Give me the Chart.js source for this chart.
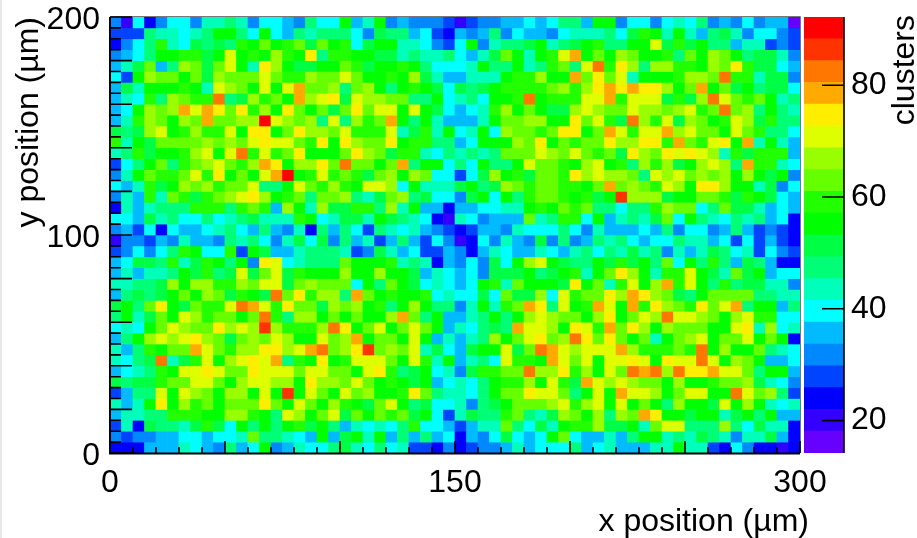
<!DOCTYPE html>
<html>
<head>
<meta charset="utf-8">
<title>clusters map</title>
<script src="https://cdn.jsdelivr.net/npm/chart.js@4"></script>
<style>
  html, body { margin: 0; padding: 0; background: #fff; overflow: hidden; }
  canvas { position: absolute; top: 0; }
  #map { left: 0; }
  #bar { left: 800px; }
  #edge { position: absolute; left: 0; top: 0; width: 2px; height: 538px; background: #e8e8e8; }
</style>
</head>
<body>
<canvas id="map" width="917" height="538"></canvas>
<canvas id="bar" width="117" height="538"></canvas>
<div id="edge"></div>
<script>
// bin centres along x, lower bin edges along y (top row first)
const xBins = [2.5,7.5,12.5,17.5,22.5,27.5,32.5,37.5,42.5,47.5,52.5,57.5,62.5,67.5,72.5,77.5,82.5,87.5,92.5,97.5,
  102.5,107.5,112.5,117.5,122.5,127.5,132.5,137.5,142.5,147.5,152.5,157.5,162.5,167.5,172.5,177.5,182.5,187.5,192.5,197.5,
  202.5,207.5,212.5,217.5,222.5,227.5,232.5,237.5,242.5,247.5,252.5,257.5,262.5,267.5,272.5,277.5,282.5,287.5,292.5,297.5];
const yBins = [195,190,185,180,175,170,165,160,155,150,145,140,135,130,125,120,115,110,105,100,
  95,90,85,80,75,70,65,60,55,50,45,40,35,30,25,20,15,10,5,0];
const yBinHeight = 5;

const clusterRows = [
  [32,20,40,24,32,40,40,32,44,44,48,44,32,40,40,36,32,48,40,40, 55,36,44,55,32,36,32,32,32,28,20,28,32,32,36,36,40,36,40,48, 48,36,55,55,32,40,40,32,40,44,40,48,32,36,32,40,32,36,36,16],
  [28,28,28,48,44,44,40,44,48,55,55,48,40,55,40,36,48,44,48,48, 48,40,32,51,48,48,36,40,28,24,36,32,36,48,32,40,36,36,32,40, 44,44,44,48,40,51,59,55,44,55,44,36,48,51,44,32,40,40,32,28],
  [24,32,40,48,59,44,40,51,48,51,48,59,55,63,55,59,63,51,63,55, 59,40,51,55,55,44,44,40,32,28,40,55,32,44,48,48,51,55,44,48, 51,55,59,48,48,55,55,71,51,59,51,55,48,48,36,44,44,28,32,28],
  [32,36,40,48,55,55,59,59,51,55,71,55,59,55,67,59,55,75,48,59, 59,55,55,51,51,44,48,44,44,48,40,36,44,51,63,55,44,55,59,71, 79,55,63,55,67,63,55,55,59,48,63,55,67,63,55,48,51,51,44,32],
  [36,44,51,63,36,48,67,63,51,63,71,55,44,75,67,55,51,51,55,55, 63,59,51,55,55,59,55,48,40,40,40,44,55,48,48,55,44,48,59,63, 48,71,83,59,75,67,48,67,67,59,59,55,67,63,75,59,51,51,40,36],
  [40,28,55,67,63,63,55,63,51,67,63,63,63,71,63,59,59,67,63,63, 71,63,55,55,59,55,67,51,44,36,36,44,44,44,55,59,59,67,55,55, 79,63,75,63,71,44,55,55,55,59,67,67,63,83,59,59,44,51,51,32],
  [36,51,44,55,55,55,59,55,44,71,67,63,55,71,55,71,79,63,63,67, 48,63,67,55,48,55,59,55,51,40,51,48,51,55,59,59,59,59,63,67, 59,67,75,79,75,79,75,75,67,55,63,79,55,63,51,55,48,51,51,40],
  [36,44,40,59,48,67,63,59,59,83,48,51,67,59,63,55,79,67,71,75, 51,71,67,67,63,63,48,48,55,40,44,48,40,55,55,59,83,55,59,59, 59,71,71,79,59,71,71,71,51,59,51,67,83,71,63,59,63,55,44,48],
  [36,40,55,67,63,67,79,71,79,75,63,75,59,67,55,75,63,55,63,51, 63,75,63,71,71,55,71,55,51,40,36,40,44,59,67,55,63,55,51,51, 67,71,67,63,63,71,67,67,63,67,71,59,63,83,63,67,48,55,48,44],
  [36,44,59,67,63,55,67,63,79,63,63,67,67,90,71,67,63,67,48,71, 48,67,59,63,79,55,48,55,44,36,36,36,44,55,63,63,67,67,55,55, 75,63,71,59,51,83,67,59,71,51,67,63,55,59,71,67,51,59,48,48],
  [51,48,51,67,71,55,59,67,59,59,71,55,75,75,55,63,75,67,67,63, 71,59,59,59,71,44,51,59,44,55,40,44,55,40,67,63,63,59,63,75, 75,55,63,79,71,59,71,71,79,67,71,63,63,55,71,63,59,48,48,40],
  [59,44,55,51,63,63,63,63,67,63,67,63,71,75,71,71,63,59,75,55, 75,67,63,63,75,55,59,59,48,48,36,40,55,55,55,67,63,75,55,63, 59,63,63,75,67,67,75,75,59,79,63,59,71,75,55,79,44,55,44,36],
  [44,48,59,51,55,55,59,67,71,55,71,83,59,71,59,63,75,55,55,55, 63,75,67,63,51,59,59,44,40,48,44,48,44,48,63,63,63,71,67,63, 71,63,59,63,51,75,67,63,75,71,75,71,67,44,59,51,59,59,59,36],
  [28,40,48,55,63,48,59,63,67,71,63,59,67,79,75,55,67,67,75,63, 83,63,63,55,63,79,48,55,55,40,48,40,55,48,48,55,71,63,63,59, 55,67,71,55,59,48,67,59,67,51,55,67,71,67,48,79,59,59,44,40],
  [32,44,55,63,59,59,63,71,59,75,55,63,55,71,79,90,55,59,71,59, 63,59,51,63,67,55,67,63,40,40,28,40,51,67,55,59,51,63,63,59, 75,67,71,67,67,63,48,71,67,71,63,67,63,67,55,67,55,51,55,32],
  [40,36,44,59,51,55,67,63,67,59,63,63,71,48,48,55,71,63,59,67, 59,55,71,71,67,40,55,44,44,44,51,55,48,51,67,63,59,63,63,59, 59,55,63,79,63,67,63,59,71,67,55,75,75,67,55,55,44,51,32,40],
  [32,44,36,59,44,63,59,51,59,63,67,71,75,67,55,59,63,48,63,63, 67,48,44,51,63,67,48,51,40,40,32,51,55,40,55,48,59,63,63,59, 55,59,51,55,87,67,67,67,51,55,55,63,63,59,51,59,55,51,40,36],
  [24,44,36,44,48,48,48,59,59,59,48,59,63,59,36,67,55,44,67,51, 51,59,59,48,67,44,55,36,36,24,36,36,40,40,44,44,55,59,55,63, 59,63,48,48,40,48,48,59,67,63,63,40,48,63,51,51,44,36,40,36],
  [40,40,36,51,44,48,40,40,48,40,44,48,51,44,44,44,59,55,40,44, 51,51,44,55,51,48,44,40,24,20,44,40,32,36,36,36,63,44,48,59, 59,40,55,36,44,48,44,51,63,40,55,48,44,40,48,44,48,36,40,24],
  [32,36,28,40,24,40,36,36,40,44,48,40,36,48,36,32,44,24,48,36, 48,40,28,48,44,40,44,36,32,28,24,28,36,36,32,44,40,40,40,48, 40,32,44,36,36,36,40,36,48,32,40,40,32,36,48,36,28,32,28,24],
  [20,32,32,28,36,32,44,36,36,32,48,44,48,40,32,44,51,40,51,32, 48,36,44,28,36,48,36,28,40,32,20,24,40,32,44,36,32,51,32,48, 32,36,48,44,48,40,36,40,40,48,44,44,36,40,28,40,28,36,28,24],
  [28,32,40,32,40,48,59,55,40,40,59,28,55,51,36,36,44,48,48,48, 44,28,32,51,44,36,40,28,28,36,32,24,36,44,40,36,36,44,40,36, 44,48,40,48,44,51,44,48,32,44,36,44,51,48,40,44,28,40,32,28],
  [36,40,51,51,48,59,44,51,59,55,48,55,32,75,71,40,44,48,48,48, 63,55,55,55,59,44,48,44,24,36,32,40,32,51,40,55,67,71,55,51, 48,48,55,51,59,51,55,48,63,40,55,48,59,48,36,51,48,36,24,24],
  [36,44,36,44,44,48,55,51,59,48,51,71,51,63,71,51,59,55,55,55, 67,55,55,67,55,55,51,36,44,40,36,40,32,51,51,51,55,48,51,55, 59,44,55,63,75,67,55,44,59,59,71,55,51,44,63,51,55,36,40,40],
  [44,44,48,48,51,67,55,67,67,59,59,67,63,71,71,51,63,67,63,63, 63,40,55,48,63,55,51,40,44,40,36,40,55,59,44,63,55,55,55,51, 75,55,63,44,59,71,55,67,79,59,71,55,48,59,48,51,51,44,44,32],
  [36,48,51,48,51,55,63,55,67,63,51,59,55,51,83,63,75,59,67,67, 48,79,63,55,59,55,55,59,40,44,40,40,51,40,63,51,51,67,40,71, 59,63,63,75,67,79,75,67,63,51,48,55,63,63,63,63,48,48,44,44],
  [51,55,48,63,75,55,51,63,59,59,71,83,79,71,59,75,63,63,51,67, 63,67,55,59,48,55,67,55,48,48,32,44,55,44,59,63,79,75,48,71, 55,59,79,71,55,79,59,75,67,63,59,75,63,71,79,48,55,55,36,48],
  [48,55,44,51,63,55,71,67,59,63,63,55,63,83,59,48,67,67,55,63, 55,63,55,55,67,79,63,48,55,36,36,44,48,55,48,55,67,71,67,63, 63,55,67,75,55,63,71,67,83,71,71,67,63,55,67,71,59,59,40,40],
  [40,44,40,55,63,71,67,63,63,75,67,71,67,87,67,59,59,59,67,83, 75,55,63,71,55,63,71,63,55,36,44,40,48,51,48,79,71,71,67,55, 75,71,59,79,63,75,67,55,67,63,63,63,55,55,71,75,44,67,40,44],
  [36,48,55,67,71,67,71,75,67,63,51,63,67,63,71,67,55,55,71,63, 67,79,55,63,63,55,71,55,36,44,36,44,48,67,55,63,71,75,63,67, 83,75,63,75,63,55,63,44,55,63,67,71,55,63,63,71,55,63,55,24],
  [44,36,48,59,55,63,63,79,71,63,59,67,67,75,75,67,71,79,83,63, 67,75,87,63,67,63,71,44,51,40,36,51,55,55,71,51,63,83,79,71, 67,71,71,71,79,67,59,59,59,63,59,83,55,67,55,55,63,48,44,40],
  [44,40,48,51,83,44,51,59,71,55,67,71,75,71,79,48,59,55,75,55, 59,71,71,71,63,55,71,59,44,55,36,44,48,40,71,59,59,55,79,71, 63,71,55,71,71,75,71,55,75,71,71,83,71,55,67,63,55,36,36,40],
  [36,40,44,48,59,55,71,71,75,71,63,63,75,71,71,71,63,71,71,63, 63,55,71,75,59,48,51,55,40,44,32,51,59,59,63,63,83,67,67,75, 59,67,55,71,63,83,79,83,67,83,75,75,79,71,71,63,48,55,55,36],
  [51,48,51,51,59,63,63,71,71,63,55,67,71,71,67,67,55,75,67,67, 63,71,63,55,59,55,51,55,36,40,44,40,48,55,59,59,67,55,71,59, 51,79,71,67,71,67,63,63,55,67,55,55,59,63,63,67,51,44,40,32],
  [28,36,48,48,71,55,71,67,63,55,67,67,55,71,55,87,55,71,63,55, 71,63,67,55,55,59,75,63,48,44,44,40,48,55,63,63,75,71,71,63, 48,55,71,55,79,71,71,67,55,63,71,71,55,55,83,71,63,67,48,28],
  [44,36,44,55,75,55,67,59,63,55,63,63,63,75,63,55,71,63,55,67, 59,55,51,63,71,55,48,51,40,40,44,32,48,51,55,63,63,63,67,71, 59,67,71,55,71,55,63,55,48,67,55,55,51,71,55,67,55,44,40,44],
  [36,44,44,48,48,59,59,59,55,55,67,67,59,55,48,71,67,55,63,71, 51,63,55,63,59,63,51,55,40,28,44,51,48,48,59,63,48,44,51,67, 63,55,67,48,67,63,79,75,55,55,51,55,55,44,51,55,48,55,36,36],
  [28,44,24,51,48,48,44,51,59,51,40,55,48,55,48,55,59,51,55,48, 36,44,40,44,40,48,59,40,40,36,28,36,44,44,63,48,40,51,44,55, 59,59,67,51,51,55,44,63,71,71,48,48,48,67,48,40,51,44,44,24],
  [32,28,32,32,36,36,40,40,36,40,40,44,63,48,48,44,40,36,55,36, 51,55,44,55,36,48,36,48,36,40,24,36,32,40,51,40,36,40,55,63, 40,36,36,44,36,48,55,55,44,48,44,51,48,44,32,44,44,51,36,24],
  [24,24,24,36,36,36,44,40,36,32,48,36,40,55,32,36,44,40,40,48, 51,44,40,48,40,44,28,28,24,32,24,28,32,32,36,44,36,40,40,40, 48,36,40,44,36,36,36,44,44,55,44,44,28,24,40,32,24,24,20,24]
];

// colour scale: 20 bands, bottom to top
const levelEdges = [14.2,18.1,22,25.9,29.8,33.7,37.6,41.5,45.4,49.3,53.2,57.1,61,64.9,68.8,72.7,76.6,80.5,84.4,88.3,92.2];
const levelColors = ['#6600ff','#3300ff','#0000ff','#0044ff','#0088ff','#00bbff','#00ffff','#00ffbb','#00ff77','#00ff44',
  '#00ff00','#22ff00','#66ff00','#99ff00','#ddff00','#ffee00','#ffaa00','#ff7700','#ff3300','#ff0000'];

const xTicks = [0,10,20,30,40,50,60,70,80,90,100,110,120,130,140,150,160,170,180,190,200,210,220,230,240,250,260,270,280,290,300];
const xMajor = [0,50,100,150,200,250,300];
const xLabels = [0,150,300];
const yTicks = [0,5,10,15,20,25,30,35,40,45,50,55,60,65,70,75,80,85,90,95,100,105,110,115,120,125,130,135,140,145,150,155,160,165,170,175,180,185,190,195,200];
const yMajor = [0,20,40,60,80,100,120,140,160,180,200];
const yLabels = [0,100,200];
const zTicks = [20,40,60,80];

const FONT = "'Liberation Sans', Arial, sans-serif";
const tickFont = { family: FONT, size: 32 };

function colorFor(v) {
  let i = levelEdges.findIndex(e => e > v) - 1;
  if (i < 0) i = levelColors.length - 1;
  return levelColors[i];
}

// labels must not push the plot area around
function noLabelPadding(axis) {
  axis.paddingTop = 0;
  axis.paddingBottom = 0;
  axis.paddingLeft = 0;
  axis.paddingRight = 0;
}

const mapDatasets = clusterRows.map((row, r) => ({
  data: row.map((v, c) => ({ x: xBins[c], y: [yBins[r], yBins[r] + yBinHeight] })),
  backgroundColor: row.map(colorFor),
  borderWidth: 0,
  barPercentage: 1,
  categoryPercentage: 1,
  grouped: false,
}));

// root style frame and inward ticks, placed through the scales
const mapFrame = {
  id: 'mapFrame',
  afterDatasetsDraw(chart) {
    const { ctx, chartArea: a, scales: { x, y } } = chart;
    ctx.save();
    ctx.strokeStyle = '#777';
    ctx.lineWidth = 1;
    ctx.beginPath();
    ctx.moveTo(a.left, a.top - 0.5);
    ctx.lineTo(a.right + 0.5, a.top - 0.5);
    ctx.lineTo(a.right + 0.5, a.bottom);
    ctx.stroke();
    ctx.strokeStyle = '#000';
    ctx.lineWidth = 1.6;
    ctx.beginPath();
    xTicks.forEach(v => {
      const px = x.getPixelForValue(v);
      ctx.moveTo(px, a.bottom);
      ctx.lineTo(px, a.bottom - (xMajor.includes(v) ? 12 : 6));
    });
    yTicks.forEach(v => {
      const py = y.getPixelForValue(v);
      ctx.moveTo(a.left, py);
      ctx.lineTo(a.left + (yMajor.includes(v) ? 22 : 11), py);
    });
    ctx.stroke();
    ctx.lineWidth = 2;
    ctx.beginPath();
    ctx.moveTo(a.left, a.top);
    ctx.lineTo(a.left, a.bottom + 0.5);
    ctx.lineTo(a.right, a.bottom + 0.5);
    ctx.stroke();
    // x title sits past the end of the axis
    ctx.fillStyle = '#000';
    ctx.font = '32px ' + FONT;
    ctx.textAlign = 'right';
    ctx.textBaseline = 'middle';
    ctx.fillText('x position (µm)', 809, 522);
    ctx.restore();
  },
};

new Chart(document.getElementById('map'), {
  type: 'bar',
  data: { datasets: mapDatasets },
  plugins: [mapFrame],
  options: {
    responsive: false,
    animation: false,
    layout: { padding: { top: 17, right: 117, left: 0, bottom: 0 } },
    plugins: { legend: { display: false }, tooltip: { enabled: false } },
    scales: {
      x: {
        type: 'linear', min: 0, max: 300, offset: false,
        grid: { display: false, drawTicks: false }, border: { display: false },
        afterBuildTicks(axis) { axis.ticks = xTicks.map(value => ({ value })); },
        afterFit(axis) { axis.height = 85; noLabelPadding(axis); },
        ticks: {
          autoSkip: false, maxRotation: 0, minRotation: 0, padding: 11,
          color: '#000', font: tickFont,
          callback: v => (xLabels.includes(v) ? String(v) : ''),
        },
      },
      y: {
        type: 'linear', min: 0, max: 200,
        grid: { display: false, drawTicks: false }, border: { display: false },
        afterBuildTicks(axis) { axis.ticks = yTicks.map(value => ({ value })); },
        afterFit(axis) { axis.width = 110; noLabelPadding(axis); },
        title: {
          display: true, text: 'y position (µm)', align: 'end', color: '#000',
          font: tickFont, padding: { top: 10, bottom: 0 },
        },
        ticks: {
          autoSkip: false, padding: 10, labelOffset: 3,
          color: '#000', font: tickFont,
          callback: v => (yLabels.includes(v) ? String(v) : ''),
        },
      },
    },
  },
});

const barFrame = {
  id: 'barFrame',
  afterDatasetsDraw(chart) {
    const { ctx, chartArea: a, scales: { y } } = chart;
    ctx.save();
    ctx.strokeStyle = '#000';
    ctx.lineWidth = 1.6;
    ctx.beginPath();
    ctx.moveTo(a.right, a.top);
    ctx.lineTo(a.right, a.bottom);
    zTicks.forEach(v => {
      const py = y.getPixelForValue(v);
      ctx.moveTo(a.right, py);
      ctx.lineTo(a.right - 22, py);
    });
    ctx.stroke();
    ctx.translate(105, 15);
    ctx.rotate(-Math.PI / 2);
    ctx.fillStyle = '#000';
    ctx.font = '32px ' + FONT;
    ctx.textAlign = 'right';
    ctx.textBaseline = 'middle';
    ctx.fillText('clusters', 0, 0);
    ctx.restore();
  },
};

new Chart(document.getElementById('bar'), {
  type: 'bar',
  data: {
    labels: ['clusters'],
    datasets: levelColors.map((color, i) => ({
      data: [[levelEdges[i], levelEdges[i + 1]]],
      backgroundColor: color,
      borderWidth: 0,
      barPercentage: 1,
      categoryPercentage: 1,
      grouped: false,
    })),
  },
  plugins: [barFrame],
  options: {
    responsive: false,
    animation: false,
    layout: { padding: { top: 17, left: 4, right: 0, bottom: 85 } },
    plugins: { legend: { display: false }, tooltip: { enabled: false } },
    scales: {
      x: { display: false },
      y: {
        position: 'right', min: 14.2, max: 92.2,
        grid: { display: false, drawTicks: false }, border: { display: false },
        afterBuildTicks(axis) { axis.ticks = zTicks.map(value => ({ value })); },
        afterFit(axis) { axis.width = 73; noLabelPadding(axis); },
        ticks: { autoSkip: false, padding: 7, color: '#000', font: tickFont },
      },
    },
  },
});
</script>
</body>
</html>
